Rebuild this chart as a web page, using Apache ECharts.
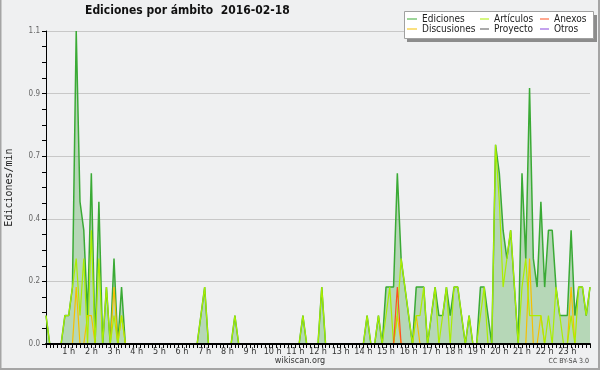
<!DOCTYPE html>
<html>
<head>
<meta charset="utf-8">
<script src="https://cdn.jsdelivr.net/npm/echarts/dist/echarts.min.js"></script>
<style>
  html, body { margin: 0; padding: 0; background: #eff0f1; }
  #main { width: 600px; height: 370px; }
</style>
</head>
<body>
<div id="main"></div>
<script>
// 10-minute buckets, 00:00 .. 24:00 (edits per minute)
var ediciones = [
  0.1, 0, 0, 0, 0, 0.1, 0.1, 0.2, 1.1, 0.5, 0.4, 0.1,       // 0-2h
  0.6, 0, 0.5, 0, 0.2, 0, 0.3, 0, 0.2, 0, 0, 0,             // 2-4h
  0, 0, 0, 0, 0, 0, 0, 0, 0, 0, 0, 0,                       // 4-6h
  0, 0, 0, 0, 0, 0.1, 0.2, 0, 0, 0, 0, 0,                   // 6-8h
  0, 0, 0.1, 0, 0, 0, 0, 0, 0, 0, 0, 0,                     // 8-10h
  0, 0, 0, 0, 0, 0, 0, 0, 0.1, 0, 0, 0,                     // 10-12h
  0, 0.2, 0, 0, 0, 0, 0, 0, 0, 0, 0, 0,                     // 12-14h
  0, 0.1, 0, 0, 0.1, 0, 0.2, 0.2, 0.2, 0.6, 0.3, 0.2,       // 14-16h
  0.1, 0, 0.2, 0.2, 0.2, 0, 0.1, 0.2, 0.1, 0.1, 0.2, 0.1,   // 16-18h
  0.2, 0.2, 0.1, 0, 0.1, 0, 0, 0.2, 0.2, 0.1, 0, 0.7,       // 18-20h
  0.6, 0.4, 0.3, 0.4, 0.2, 0, 0.6, 0.3, 0.9, 0.3, 0.2, 0.5, // 20-22h
  0.2, 0.4, 0.4, 0.2, 0.1, 0.1, 0.1, 0.4, 0.1, 0.2, 0.2, 0.1, // 22-24h
  0.2
];
var articulos = [
  0.1, 0, 0, 0, 0, 0.1, 0.1, 0.2, 0.3, 0.1, 0.3, 0,
  0.4, 0, 0.3, 0, 0.2, 0, 0.1, 0, 0.1, 0, 0, 0,
  0, 0, 0, 0, 0, 0, 0, 0, 0, 0, 0, 0,
  0, 0, 0, 0, 0, 0.1, 0.2, 0, 0, 0, 0, 0,
  0, 0, 0.1, 0, 0, 0, 0, 0, 0, 0, 0, 0,
  0, 0, 0, 0, 0, 0, 0, 0, 0.1, 0, 0, 0,
  0, 0.2, 0, 0, 0, 0, 0, 0, 0, 0, 0, 0,
  0, 0.1, 0, 0, 0.1, 0, 0.1, 0.2, 0, 0.1, 0.3, 0.2,
  0.1, 0, 0.1, 0.1, 0.2, 0, 0.1, 0.2, 0, 0.1, 0.2, 0,
  0.2, 0.2, 0.1, 0, 0.1, 0, 0, 0.1, 0.2, 0, 0, 0.7,
  0.5, 0.2, 0.3, 0.4, 0.2, 0, 0.2, 0.3, 0.1, 0.1, 0.1, 0.1,
  0, 0.1, 0, 0.2, 0.1, 0, 0, 0.1, 0, 0.2, 0.2, 0.1,
  0.2
];
var discusiones = [
  0, 0, 0, 0, 0, 0, 0, 0, 0.2, 0, 0, 0.1,
  0.1, 0, 0, 0, 0, 0, 0.2, 0, 0.1, 0, 0, 0,
  0, 0, 0, 0, 0, 0, 0, 0, 0, 0, 0, 0,
  0, 0, 0, 0, 0, 0, 0, 0, 0, 0, 0, 0,
  0, 0, 0, 0, 0, 0, 0, 0, 0, 0, 0, 0,
  0, 0, 0, 0, 0, 0, 0, 0, 0, 0, 0, 0,
  0, 0, 0, 0, 0, 0, 0, 0, 0, 0, 0, 0,
  0, 0, 0, 0, 0, 0, 0, 0, 0, 0.1, 0, 0,
  0, 0, 0.1, 0, 0, 0, 0, 0, 0, 0, 0, 0,
  0, 0, 0, 0, 0, 0, 0, 0, 0, 0, 0, 0,
  0, 0, 0, 0, 0, 0, 0, 0, 0.3, 0, 0, 0.1,
  0, 0, 0, 0, 0, 0, 0, 0.2, 0, 0, 0, 0,
  0
];
var anexos = [
  0, 0, 0, 0, 0, 0, 0, 0, 0, 0, 0, 0,
  0, 0, 0, 0, 0, 0, 0, 0, 0, 0, 0, 0,
  0, 0, 0, 0, 0, 0, 0, 0, 0, 0, 0, 0,
  0, 0, 0, 0, 0, 0, 0, 0, 0, 0, 0, 0,
  0, 0, 0, 0, 0, 0, 0, 0, 0, 0, 0, 0,
  0, 0, 0, 0, 0, 0, 0, 0, 0, 0, 0, 0,
  0, 0, 0, 0, 0, 0, 0, 0, 0, 0, 0, 0,
  0, 0, 0, 0, 0, 0, 0, 0, 0, 0.2, 0, 0,
  0, 0, 0, 0, 0, 0, 0, 0, 0, 0, 0, 0,
  0, 0, 0, 0, 0, 0, 0, 0, 0, 0, 0, 0,
  0, 0, 0, 0, 0, 0, 0, 0, 0, 0, 0, 0,
  0, 0, 0, 0, 0, 0, 0, 0, 0, 0, 0, 0,
  0
];
var proyecto = [];
var otros = [];

// time categories every 10 minutes
var horas = [];
for (var i = 0; i < ediciones.length; i++) {
  var m = i * 10;
  var hh = Math.floor(m / 60), mm = m % 60;
  horas.push((hh < 10 ? '0' : '') + hh + ':' + (mm < 10 ? '0' : '') + mm);
}

var FONT = "'DejaVu Sans Condensed', 'DejaVu Sans'";

var dom = document.getElementById('main');
var myChart = echarts.init(dom, null, { renderer: 'canvas' });

var legendText = { fontFamily: FONT, fontSize: 10, color: '#222', lineHeight: 10 };

var option = {
  backgroundColor: '#eff0f1',
  animation: false,
  title: {
    text: 'Ediciones por ámbito  2016-02-18',
    left: 85,
    top: 5,
    padding: 0,
    textStyle: { fontFamily: FONT, fontSize: 12, fontWeight: 'bold', color: '#111' }
  },
  legend: [
    {
      data: ['Ediciones', 'Discusiones'],
      orient: 'vertical', left: 407, top: 14, padding: 0, itemGap: 0,
      icon: 'rect', itemWidth: 10, itemHeight: 1,
      textStyle: legendText, z: 20
    },
    {
      data: ['Artículos', 'Proyecto'],
      orient: 'vertical', left: 480, top: 14, padding: 0, itemGap: 0,
      icon: 'rect', itemWidth: 9, itemHeight: 1,
      textStyle: legendText, z: 20
    },
    {
      data: ['Anexos', 'Otros'],
      orient: 'vertical', left: 540, top: 14, padding: 0, itemGap: 0,
      icon: 'rect', itemWidth: 9, itemHeight: 1,
      textStyle: legendText, z: 20
    }
  ],
  grid: { left: 46, right: 10, top: 31, bottom: 26, containLabel: false, outerBoundsMode: 'none' },
  xAxis: {
    type: 'category',
    data: horas,
    boundaryGap: false,
    z: 10,
    axisLine: { lineStyle: { color: '#000', width: 2 } },
    axisTick: { interval: 0, length: 4, lineStyle: { color: '#000' } },
    axisLabel: {
      interval: function (index, value) {
        return value.slice(3) === '00' && index > 0 && index < horas.length - 1;
      },
      formatter: function (value) {
        return parseInt(value.slice(0, 2), 10) + ' h';
      },
      margin: 3,
      fontFamily: FONT,
      fontSize: 9,
      color: '#333'
    },
    splitLine: { show: false }
  },
  yAxis: {
    type: 'value',
    min: 0,
    max: 1.1,
    interval: 0.22,
    name: 'Ediciones/min',
    nameLocation: 'middle',
    nameGap: 32,
    nameTextStyle: { fontFamily: 'DejaVu Sans Mono', fontSize: 10, color: '#222' },
    axisLine: { show: true, lineStyle: { color: '#000' } },
    axisTick: { show: true, length: 4, lineStyle: { color: '#000' } },
    minorTick: { show: true, splitNumber: 4, length: 4, lineStyle: { color: '#000' } },
    axisLabel: {
      formatter: function (v) { return v.toFixed(1); },
      margin: 6,
      fontFamily: FONT,
      fontSize: 8,
      color: '#666'
    },
    splitLine: { lineStyle: { color: '#c8c8c8' } }
  },
  graphic: [
    {
      type: 'polyline', z: 30, silent: true,
      shape: { points: [[0.5, 0], [0.5, 369], [599, 369], [599, 0]] },
      style: { stroke: '#a5a5a5', lineWidth: 2, fill: null }
    },
    {
      type: 'rect', z: 15, silent: true,
      shape: { x: 407, y: 15, width: 190, height: 27 },
      style: { fill: '#8c8c8c' }
    },
    {
      type: 'rect', z: 16, silent: true,
      shape: { x: 404.5, y: 11.5, width: 189, height: 27 },
      style: { fill: '#ffffff', stroke: '#a0a0a0', lineWidth: 1 }
    },
    {
      type: 'text', z: 20, silent: true,
      left: 'center', top: 356,
      style: { text: 'wikiscan.org', fontFamily: FONT, fontSize: 9, fill: '#333' }
    },
    {
      type: 'text', z: 20, silent: true,
      right: 11, top: 358,
      style: { text: 'CC BY-SA 3.0', fontFamily: FONT, fontSize: 7, fill: '#444' }
    }
  ],
  series: [
    {
      name: 'Ediciones', type: 'line', data: ediciones, symbol: 'none', z: 2,
      itemStyle: { color: '#3aaa35' },
      lineStyle: { color: '#3aaa35', width: 1.5 },
      areaStyle: { color: 'rgba(60,160,60,0.45)' }
    },
    {
      name: 'Discusiones', type: 'line', data: discusiones, symbol: 'none', z: 3,
      itemStyle: { color: '#f5c000' },
      lineStyle: { color: '#f5c000', width: 1.2 }
    },
    {
      name: 'Artículos', type: 'line', data: articulos, symbol: 'none', z: 4,
      itemStyle: { color: '#aaee00' },
      lineStyle: { color: '#aaee00', width: 1.2 }
    },
    {
      name: 'Proyecto', type: 'line', data: proyecto, symbol: 'none', z: 4,
      itemStyle: { color: '#555555' },
      lineStyle: { color: '#555555', width: 1.2 }
    },
    {
      name: 'Anexos', type: 'line', data: anexos, symbol: 'none', z: 5,
      itemStyle: { color: '#ff5020' },
      lineStyle: { color: '#ff5020', width: 1.2 }
    },
    {
      name: 'Otros', type: 'line', data: otros, symbol: 'none', z: 5,
      itemStyle: { color: '#8844dd' },
      lineStyle: { color: '#8844dd', width: 1.2 }
    }
  ]
};

myChart.setOption(option);
</script>
</body>
</html>
